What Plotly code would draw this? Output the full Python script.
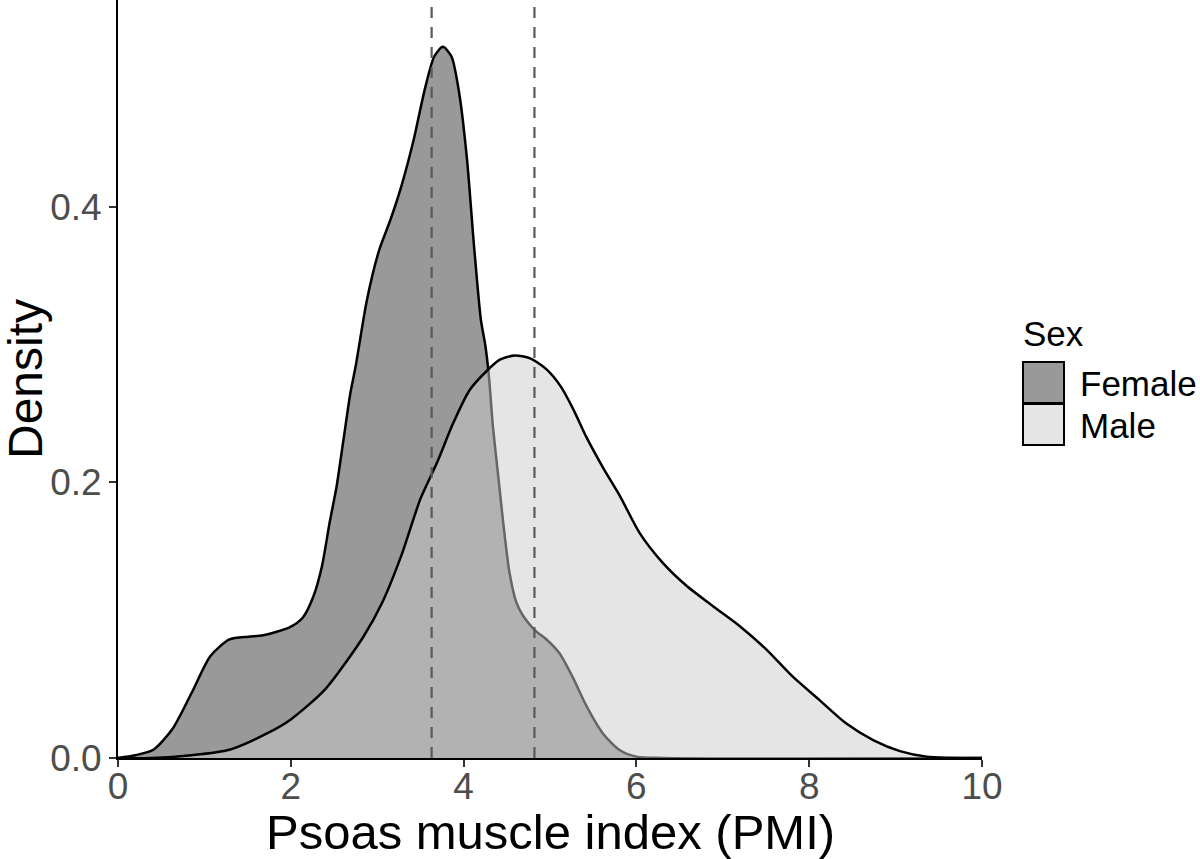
import plotly.graph_objects as go

# density curves
female_x = [0.0, 0.2, 0.41, 0.63, 0.85, 1.07, 1.29, 1.51, 1.68, 1.99, 2.14, 2.26, 2.36, 2.45,
            2.53, 2.61, 2.69, 2.75, 2.88, 3.02, 3.15, 3.28, 3.42, 3.55, 3.66, 3.76, 3.86,
            3.95, 4.04, 4.12, 4.20, 4.25, 4.29, 4.34, 4.40, 4.46, 4.53, 4.61, 4.69, 4.82,
            4.96, 5.11, 5.26, 5.42, 5.61, 5.80, 6.00, 6.30, 10.0]
female_y = [0.000, 0.002, 0.006, 0.021, 0.047, 0.074, 0.086, 0.088, 0.089, 0.095, 0.102,
            0.117, 0.139, 0.171, 0.197, 0.231, 0.265, 0.284, 0.332, 0.368, 0.390, 0.415,
            0.448, 0.485, 0.509, 0.516, 0.509, 0.482, 0.434, 0.372, 0.318, 0.300, 0.279,
            0.240, 0.205, 0.170, 0.135, 0.113, 0.103, 0.093, 0.086, 0.076, 0.059, 0.038,
            0.018, 0.006, 0.001, 0.000, 0.000]

male_x = [0.0, 0.4, 0.85, 1.29, 1.73, 2.0, 2.40, 2.84, 3.06, 3.28, 3.50, 3.69, 3.88, 4.07,
          4.27, 4.42, 4.59, 4.77, 4.96, 5.12, 5.27, 5.42, 5.62, 5.81, 6.04, 6.30, 6.58,
          6.89, 7.19, 7.50, 7.81, 8.12, 8.43, 8.74, 9.05, 9.36, 10.0]
male_y = [0.000, 0.000, 0.002, 0.006, 0.018, 0.028, 0.050, 0.088, 0.113, 0.147, 0.188,
          0.214, 0.243, 0.267, 0.281, 0.289, 0.292, 0.290, 0.282, 0.270, 0.253, 0.233,
          0.210, 0.190, 0.163, 0.142, 0.125, 0.110, 0.096, 0.079, 0.059, 0.042, 0.025,
          0.013, 0.005, 0.001, 0.000]

groups = ["Female", "Male"]
fills = ["rgba(51,51,51,0.5)", "rgba(204,204,204,0.5)"]
group_means = [3.63, 4.82]

x_ticks = [0, 2, 4, 6, 8, 10]
y_ticks = [0.0, 0.2, 0.4]

FONT = "Liberation Sans, Arial, Helvetica, sans-serif"
W, H = 1200, 859
L, R, T, B = 118, 218, 0, 101
PW, PH = W - L - R, H - T - B


def px_x(p):
    return (p - L) / PW


def px_y(p):
    return (H - B - p) / PH


fig = go.Figure()
for name, xs, ys, fc in zip(groups, [female_x, male_x], [female_y, male_y], fills):
    fig.add_trace(go.Scatter(
        x=xs, y=ys, name=name, mode="lines", fill="tozeroy", fillcolor=fc,
        line=dict(color="black", width=2.5, shape="spline", smoothing=0.7),
        showlegend=False, hoverinfo="skip",
    ))

for m in group_means:
    fig.add_vline(x=m, line=dict(color="#5a5a5a", width=2.2, dash="11px,9px"), layer="above")

# legend drawn by hand to get ggplot-style keys
fig.add_annotation(text="Sex", x=px_x(1021), y=px_y(333), xref="paper", yref="paper",
                   xanchor="left", yanchor="middle", showarrow=False,
                   font=dict(family=FONT, size=35, color="black"))
key_top = [362, 404]
for name, fc, top in zip(groups, fills, key_top):
    fig.add_shape(type="rect", xref="paper", yref="paper",
                  x0=px_x(1023), x1=px_x(1064), y0=px_y(top), y1=px_y(top + 41),
                  fillcolor=fc, line=dict(color="black", width=2))
    fig.add_annotation(text=name, x=px_x(1078), y=px_y(top + 21), xref="paper", yref="paper",
                       xanchor="left", yanchor="middle", showarrow=False,
                       font=dict(family=FONT, size=35, color="black"))

# axis titles
fig.add_annotation(text="Psoas muscle index (PMI)", x=0.5, y=px_y(832), xref="paper",
                   yref="paper", xanchor="center", yanchor="middle", showarrow=False,
                   font=dict(family=FONT, size=49, color="black"))
fig.add_annotation(text="Density", x=px_x(25), y=0.5, xref="paper", yref="paper",
                   xanchor="center", yanchor="middle", textangle=-90, showarrow=False,
                   font=dict(family=FONT, size=48, color="black"))

axis_common = dict(showgrid=False, zeroline=False, showline=True, linecolor="black",
                   linewidth=2, ticks="outside", ticklen=7, tickwidth=2, tickcolor="#333333",
                   tickfont=dict(family=FONT, size=37, color="#4D4D4D"))
fig.update_xaxes(range=[0, 10], tickvals=x_ticks, ticklabelstandoff=-12, **axis_common)
fig.update_yaxes(range=[0, 0.55], tickvals=y_ticks, tickformat=".1f", **axis_common)

fig.update_layout(
    width=W, height=H,
    margin=dict(l=L, r=R, t=T, b=B),
    plot_bgcolor="white", paper_bgcolor="white",
    font=dict(family=FONT),
)

# drop the default page margin so the figure fills the window exactly
fig.write_html("out.html", config={"displayModeBar": False},
               post_script="document.body.style.margin='0';")
